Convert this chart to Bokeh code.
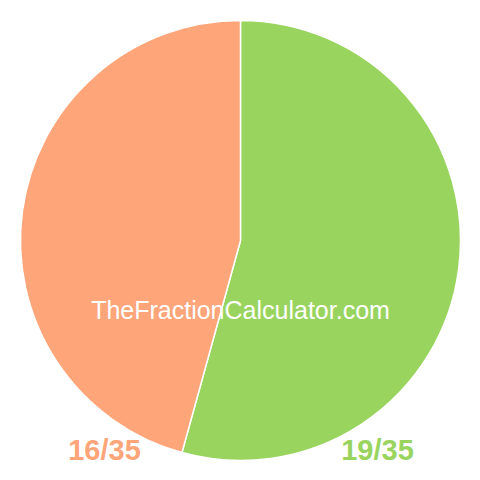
import math
from bokeh.plotting import figure
from bokeh.models import ColumnDataSource
from bokeh.core.properties import value
from bokeh.embed import file_html
from bokeh.resources import INLINE

# Data
labels = ["19/35", "16/35"]
numerators = [19, 16]
denominator = 35
colors = ["#99D45F", "#FFA57A"]
watermark = "TheFractionCalculator.com"

W = H = 464
p = figure(width=W, height=H, x_range=(0, W), y_range=(0, H),
           output_backend="svg", toolbar_location=None,
           min_border=0, outline_line_color=None, background_fill_color="white",
           border_fill_color="white")
p.axis.visible = False
p.grid.visible = False

cx, cy, r = 240, 224, 220
starts, ends = [], []
a = math.pi / 2
for n in numerators:
    starts.append(a)
    a = a - 2 * math.pi * n / denominator
    ends.append(a)

src = ColumnDataSource(dict(start=starts, end=ends, color=colors))
p.wedge(x=cx, y=cy, radius=r, start_angle="start", end_angle="end",
        direction="clock", fill_color="color", line_color="white", line_width=1.5,
        source=src)

p.text(x=[cx], y=[155], text=[watermark], text_color="white",
       text_font=value("Liberation Sans"), text_font_size="25px",
       text_align="center", text_baseline="middle")

lab_src = ColumnDataSource(dict(x=[377, 104], y=[15, 15], text=labels, color=colors))
p.text(x="x", y="y", text="text", text_color="color", source=lab_src,
       text_font=value("Liberation Sans"), text_font_size="29px",
       text_font_style="bold", text_align="center", text_baseline="middle")

open("out.html", "w").write(file_html(p, INLINE))
